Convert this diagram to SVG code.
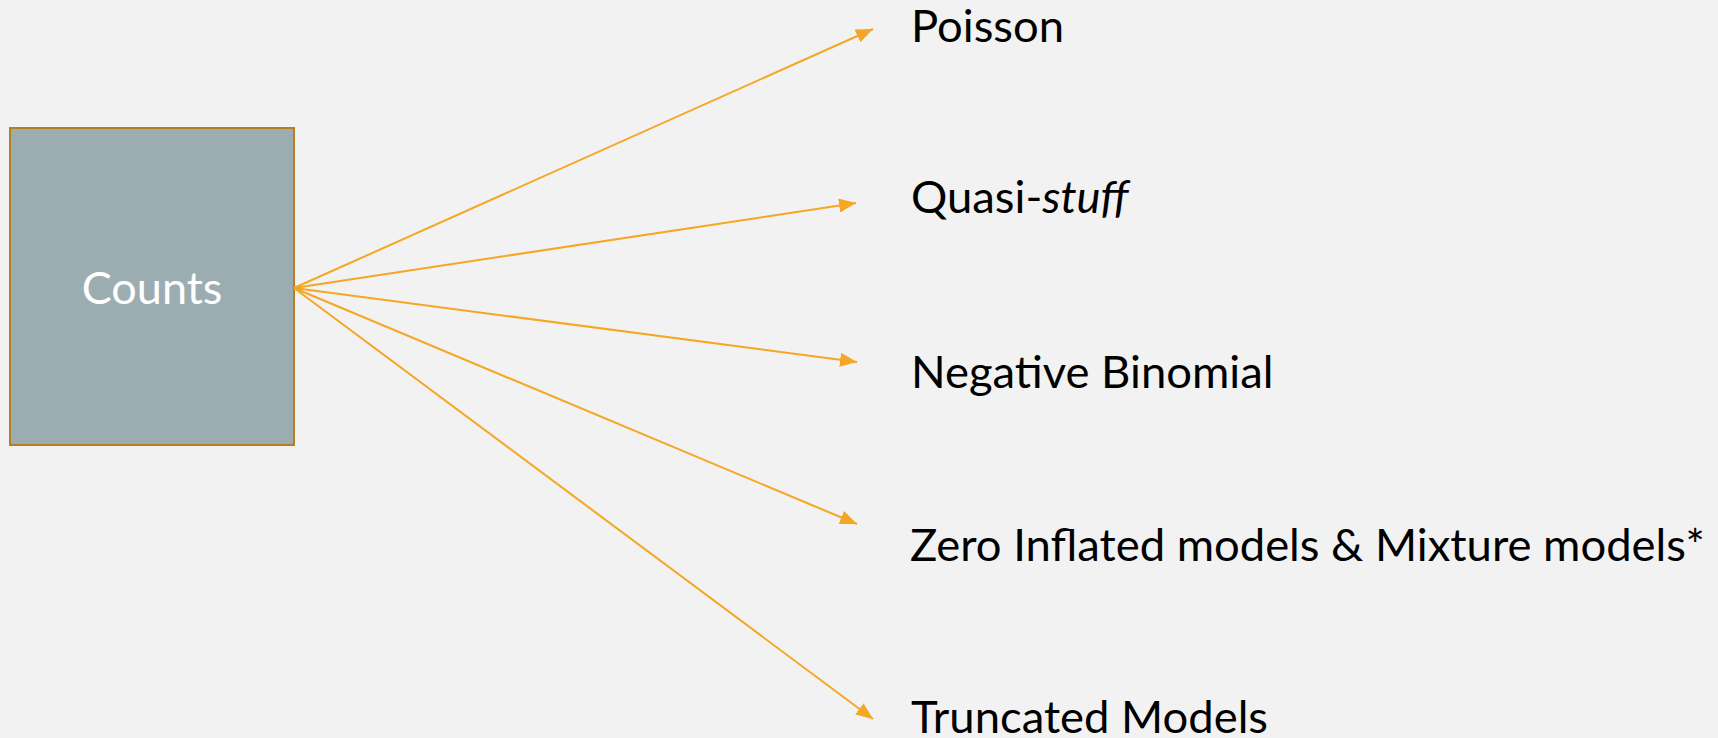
<svg xmlns="http://www.w3.org/2000/svg" width="1718" height="738" viewBox="0 0 1718 738">
<style>
.lbl{font-family:Lato,"Open Sans","Liberation Sans",sans-serif;font-size:45.4px;fill:#000}
.conn{stroke:#F5A623;stroke-width:2;fill:none}
</style>
<defs>
<marker id="ah" markerUnits="userSpaceOnUse" markerWidth="18" markerHeight="14" refX="17" refY="7" orient="auto">
<path d="M0,0 L17,7 L0,14 z" fill="#F5A623"/>
</marker>
</defs>
<rect width="1718" height="738" fill="#F2F2F2"/>
<g id="counts">
<rect x="10" y="128" width="284" height="317" fill="#9CADB2" stroke="#B57E1E" stroke-width="2"/>
<text x="152" y="304" text-anchor="middle" font-family="Lato,'Open Sans','Liberation Sans',sans-serif" font-size="45" fill="#FFFFFF">Counts</text>
</g>
<g id="connectors">
<line class="conn" x1="294" y1="288" x2="873" y2="29" marker-end="url(#ah)"/>
<line class="conn" x1="294" y1="288" x2="856" y2="203" marker-end="url(#ah)"/>
<line class="conn" x1="294" y1="288" x2="857" y2="362" marker-end="url(#ah)"/>
<line class="conn" x1="294" y1="288" x2="857" y2="524" marker-end="url(#ah)"/>
<line class="conn" x1="294" y1="288" x2="873" y2="719" marker-end="url(#ah)"/>
</g>
<g id="poisson"><text class="lbl" x="911" y="42">Poisson</text></g>
<g id="quasi"><text class="lbl" x="911" y="213">Quasi-<tspan font-style="italic">stuff</tspan></text></g>
<g id="negbin"><text class="lbl" x="911" y="388">Negative Binomial</text></g>
<g id="zero"><text class="lbl" x="910" y="561">Zero Inflated models &amp; Mixture models*</text></g>
<g id="truncated"><text class="lbl" x="911" y="733">Truncated Models</text></g>
</svg>
